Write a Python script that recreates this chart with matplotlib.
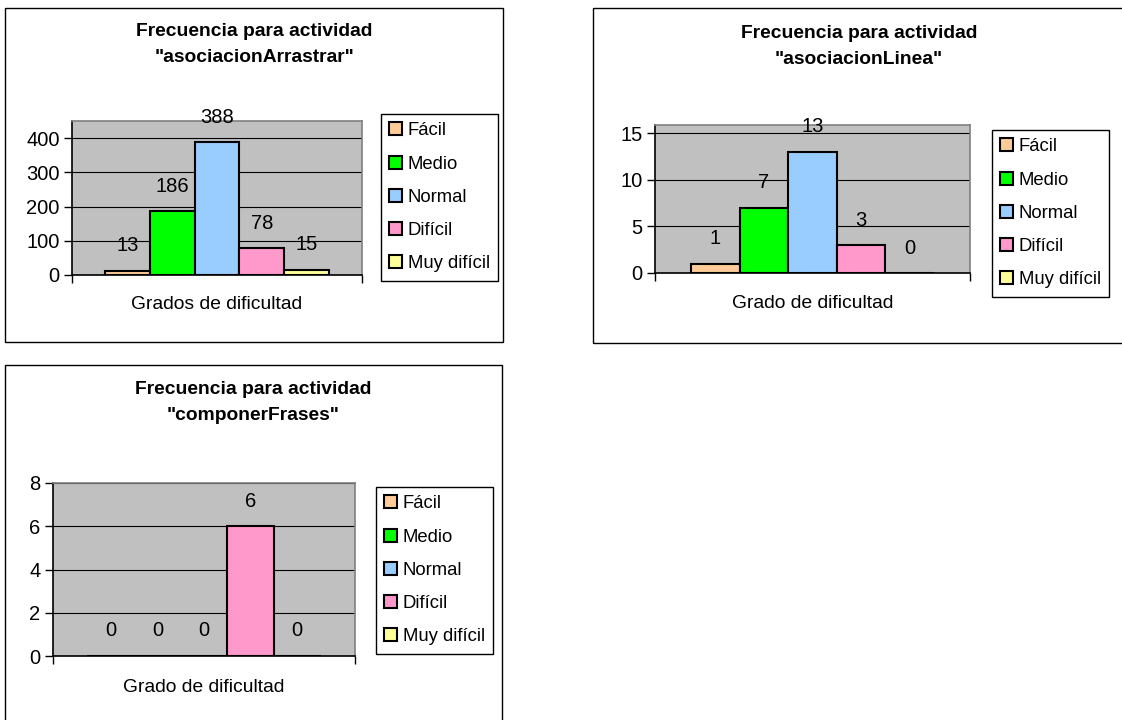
import matplotlib
matplotlib.use('Agg')
import matplotlib.pyplot as plt
from matplotlib.patches import Patch, Rectangle

# datos de las tres actividades
categorias = ['Fácil', 'Medio', 'Normal', 'Difícil', 'Muy difícil']
colores = ['#FFCC99', '#00FF00', '#99CCFF', '#FF99CC', '#FFFF99']

titulo_arrastrar = ['Frecuencia para actividad', '"asociacionArrastrar"']
valores_arrastrar = [13, 186, 388, 78, 15]
ticks_arrastrar = [0, 100, 200, 300, 400]

titulo_linea = ['Frecuencia para actividad', '"asociacionLinea"']
valores_linea = [1, 7, 13, 3, 0]
ticks_linea = [0, 5, 10, 15]

titulo_frases = ['Frecuencia para actividad', '"componerFrases"']
valores_frases = [0, 0, 0, 6, 0]
ticks_frases = [0, 2, 4, 6, 8]

plt.rcParams['font.family'] = ['Liberation Sans', 'DejaVu Sans']
FS = 13.9
FS_NUM = 14.5
FS_LEG = 13.3
W, H = 1122, 720

fig = plt.figure(figsize=(W / 100, H / 100), dpi=100)


def fx(px):
    return px / W


def fy(py):
    return 1 - py / H


def grafico(caja, area, ymax, valores, ticks, titulo, titulo_xy, xlabel, xlabel_xy, leyenda_xy):
    # marco exterior del grafico
    x0, y0, x1, y1 = caja
    fig.patches.append(Rectangle((fx(x0), fy(y1)), fx(x1 - x0), fy(y0) - fy(y1),
                                 transform=fig.transFigure, fill=False,
                                 edgecolor='black', linewidth=1.0))
    l, t, r, b = area
    ax = fig.add_axes([fx(l), fy(b), fx(r - l), fy(t) - fy(b)])
    ax.set_facecolor('#C0C0C0')
    pos = list(range(len(valores)))
    ax.bar(pos, valores, width=1.0, color=colores, edgecolor='black', linewidth=1.5, zorder=3)
    for p, v in zip(pos, valores):
        ax.annotate(str(v), (p, v), xytext=(0, 18), textcoords='offset points',
                    ha='center', va='center', fontsize=FS_NUM, zorder=4)
    ax.set_xlim(-1.24, 5.24)
    ax.set_ylim(0, ymax)
    ax.set_yticks(ticks)
    ax.yaxis.grid(True, color='black', linewidth=0.8, zorder=1)
    ax.set_xticks([-1.24, 5.24])
    ax.set_xticklabels(['', ''])
    ax.tick_params(axis='both', direction='out', length=6, width=1, labelsize=FS_NUM, pad=3)
    ax.spines['left'].set_color('black')
    ax.spines['bottom'].set_color('black')
    ax.spines['bottom'].set_zorder(5)
    ax.spines['top'].set_color('#808080')
    ax.spines['right'].set_color('#808080')
    for s in ax.spines.values():
        s.set_linewidth(1.2)

    # titulo en dos lineas
    tx, ty = titulo_xy
    for i, linea in enumerate(titulo):
        fig.text(fx(tx), fy(ty + 26 * i), linea, ha='center', va='center',
                 fontsize=FS, fontweight='bold')
    fig.text(fx(xlabel_xy[0]), fy(xlabel_xy[1]), xlabel, ha='center', va='center', fontsize=FS)

    handles = [Patch(facecolor=c, edgecolor='black', linewidth=1.5) for c in colores]
    leg = ax.legend(handles, categorias, loc='upper left',
                    bbox_to_anchor=(fx(leyenda_xy[0]), fy(leyenda_xy[1])),
                    bbox_transform=fig.transFigure, frameon=True, fancybox=False,
                    fontsize=FS_LEG, handlelength=0.7, handleheight=0.7,
                    handletextpad=0.3, labelspacing=0.88, borderpad=0.45,
                    borderaxespad=0, framealpha=1)
    leg.get_frame().set_edgecolor('black')
    leg.get_frame().set_linewidth(1.0)


grafico((5, 8, 503, 342), (72, 121, 362, 275), 450, valores_arrastrar, ticks_arrastrar,
        titulo_arrastrar, (254, 32), 'Grados de dificultad', (217, 304), (381, 114))
grafico((593, 8, 1135, 343), (655, 125, 970, 273), 15.9, valores_linea, ticks_linea,
        titulo_linea, (859, 34), 'Grado de dificultad', (813, 303), (992, 130))
grafico((5, 365, 502, 730), (53, 483, 355, 656), 8, valores_frases, ticks_frases,
        titulo_frases, (253, 390), 'Grado de dificultad', (204, 687), (376, 487))

plt.savefig('out.png', dpi=100)
